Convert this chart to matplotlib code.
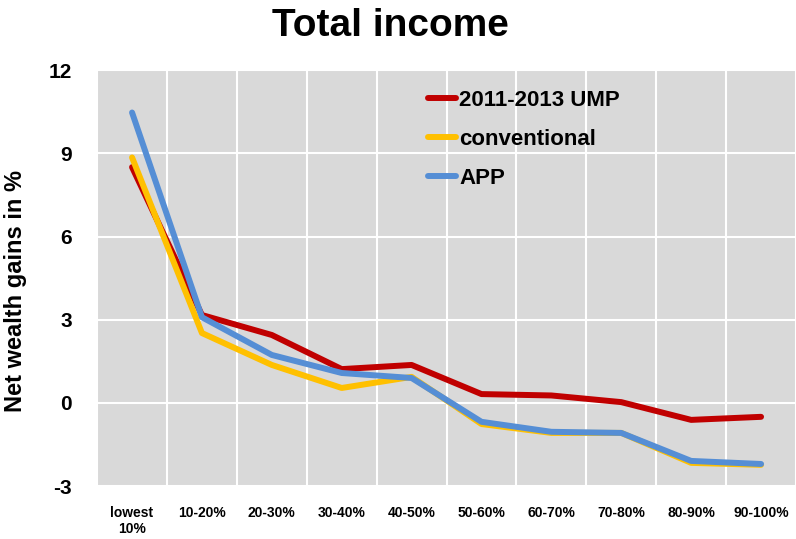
import numpy as np
import matplotlib.pyplot as plt

categories = ["lowest\n10%", "10-20%", "20-30%", "30-40%", "40-50%",
              "50-60%", "60-70%", "70-80%", "80-90%", "90-100%"]
ump = [8.5, 3.17, 2.45, 1.22, 1.37, 0.32, 0.27, 0.03, -0.61, -0.5]
conventional = [8.85, 2.52, 1.37, 0.54, 0.94, -0.76, -1.08, -1.08, -2.16, -2.23]
app = [10.47, 3.09, 1.73, 1.08, 0.9, -0.68, -1.04, -1.08, -2.09, -2.2]

plt.rcParams['font.family'] = ['Liberation Sans Narrow', 'Liberation Sans', 'DejaVu Sans']
plt.rcParams['font.weight'] = 'bold'
plt.rcParams['axes.unicode_minus'] = False

fig = plt.figure(figsize=(7.96, 5.39), dpi=100)
ax = fig.add_axes([0.122, 0.098, 0.878, 0.772])
ax.set_facecolor('#D9D9D9')

x = np.arange(len(categories))
lw = 4.3
ax.plot(x, ump, color='#C00000', lw=lw, label='2011-2013 UMP', solid_capstyle='round')
ax.plot(x, conventional, color='#FFC000', lw=lw, label='conventional', solid_capstyle='round')
ax.plot(x, app, color='#558ED5', lw=lw, label='APP', solid_capstyle='round')

ax.set_xlim(-0.5, len(categories) - 0.5)
ax.set_ylim(-3, 12)
ax.set_yticks([-3, 0, 3, 6, 9, 12])
ax.set_xticks(x)
ax.set_xticklabels(categories, fontsize=10, fontweight='bold')
ax.set_xticks(np.arange(len(categories) + 1) - 0.5, minor=True)
ax.grid(True, which='minor', axis='x', color='white', lw=1.5)
ax.grid(True, which='major', axis='y', color='white', lw=1.5)
ax.set_axisbelow(True)
ax.tick_params(axis='both', which='both', length=0)
ax.tick_params(axis='y', labelsize=15, pad=18)
ax.tick_params(axis='x', pad=14)
for s in ax.spines.values():
    s.set_visible(False)

ax.set_ylabel('Net wealth gains in %', fontsize=17, fontweight='bold')
ax.yaxis.set_label_coords(-0.1, 0.47)
fig.suptitle('Total income', fontsize=28, fontweight='bold', x=0.49, y=0.985)

leg = ax.legend(loc='upper left', bbox_to_anchor=(0.445, 1.0), frameon=False,
                fontsize=16, handlelength=1.25, handletextpad=0.15, labelspacing=0.8)

fig.savefig('out.png', dpi=100)
